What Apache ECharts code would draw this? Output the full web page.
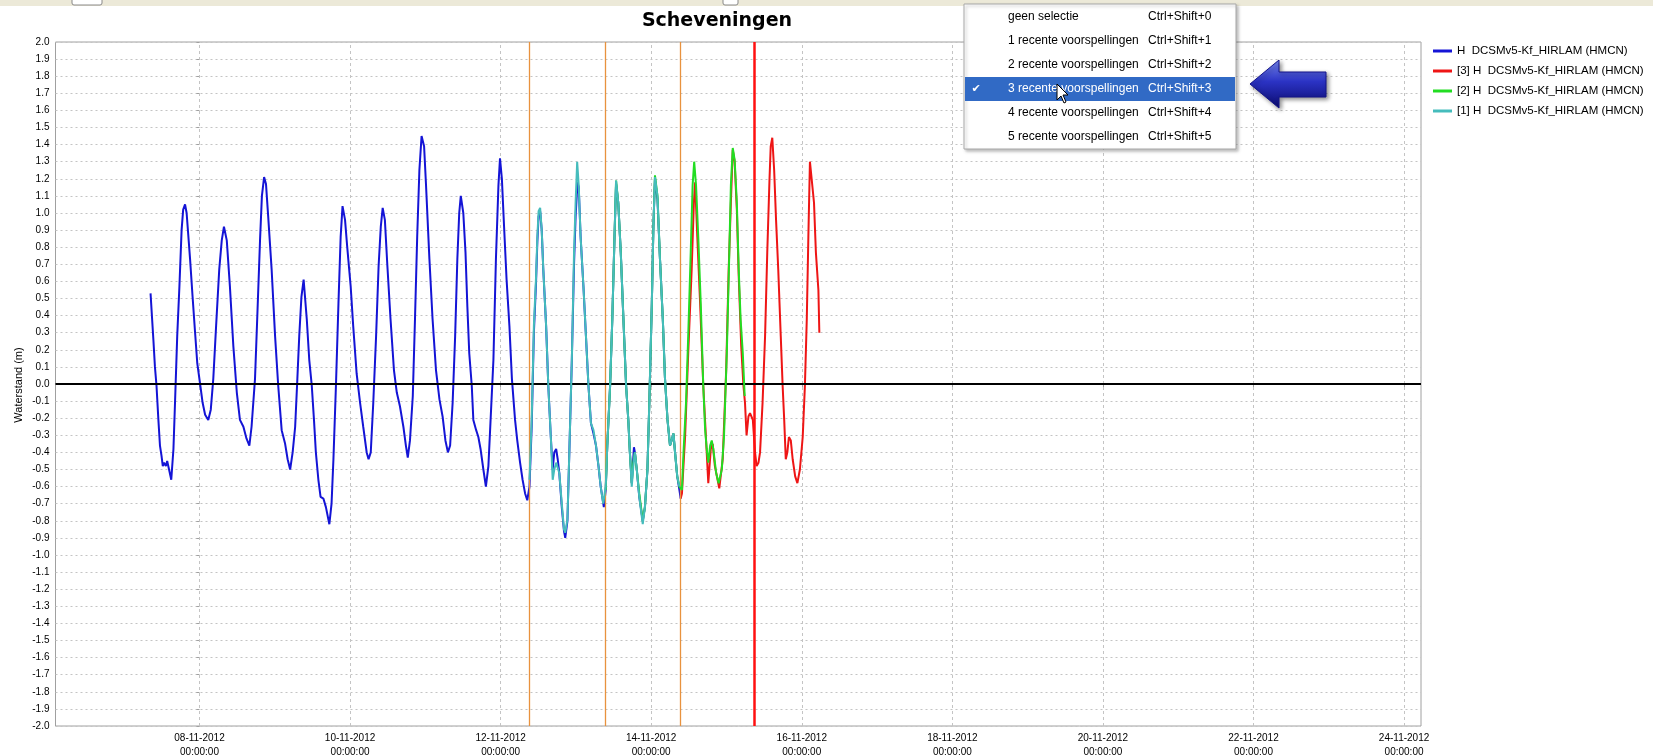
<!DOCTYPE html>
<html>
<head>
<meta charset="utf-8">
<title>Scheveningen</title>
<script src="https://cdn.jsdelivr.net/npm/echarts@6/dist/echarts.min.js"></script>
<style>
  html, body { margin: 0; padding: 0; background: #fff; }
  #chart { width: 1653px; height: 756px; }
</style>
</head>
<body>
<div id="chart"></div>
<script>
// tijd in uren vanaf 08-11-2012 00:00, waterstand in m
var tickHours = [0, 48, 96, 144, 192, 240, 288, 336, 384]
var tickDates = ['08-11-2012', '10-11-2012', '12-11-2012', '14-11-2012', '16-11-2012',
  '18-11-2012', '20-11-2012', '22-11-2012', '24-11-2012']
var tickTime = '00:00:00'

// verticale markeringen (start voorspellingen en huidige tijd)
var forecastStarts = [105.1, 129.5, 153.3]
var nowHour = 176.9

var seriesNames = [
  'H  DCSMv5-Kf_HIRLAM (HMCN)',
  '[3] H  DCSMv5-Kf_HIRLAM (HMCN)',
  '[2] H  DCSMv5-Kf_HIRLAM (HMCN)',
  '[1] H  DCSMv5-Kf_HIRLAM (HMCN)'
]

var blueData = [
  [-15.6, 0.53], [-14.7, 0.26], [-14.2, 0.10], [-13.7, -0.01], [-13.1, -0.21], [-12.6, -0.36],
  [-12.1, -0.42], [-11.7, -0.48], [-11.3, -0.46], [-10.7, -0.48], [-10.3, -0.45], [-9.7, -0.50],
  [-9.0, -0.56], [-8.3, -0.38], [-7.8, -0.11], [-7.1, 0.28], [-6.4, 0.57], [-5.7, 0.90],
  [-5.2, 1.02], [-4.6, 1.05], [-4.1, 1.00], [-3.0, 0.73], [-2.2, 0.51], [-1.4, 0.30],
  [-0.7, 0.12], [0.2, 0.00], [1.0, -0.11], [1.8, -0.18], [2.8, -0.21], [3.6, -0.15],
  [4.4, 0.03], [5.3, 0.34], [6.3, 0.67], [7.1, 0.84], [7.8, 0.92], [8.7, 0.84],
  [9.7, 0.57], [10.8, 0.22], [11.9, -0.05], [12.9, -0.21], [14.0, -0.25], [15.0, -0.32],
  [15.9, -0.36], [16.6, -0.25], [17.7, 0.03], [18.4, 0.38], [19.3, 0.84], [19.9, 1.10],
  [20.6, 1.21], [21.2, 1.17], [21.9, 0.98], [23.0, 0.67], [24.1, 0.28], [25.1, -0.01],
  [26.2, -0.27], [27.3, -0.35], [28.1, -0.44], [28.9, -0.50], [29.7, -0.40], [30.5, -0.25],
  [31.2, 0.03], [31.8, 0.28], [32.5, 0.51], [33.2, 0.61], [34.2, 0.38], [35.0, 0.14],
  [35.8, -0.01], [36.5, -0.21], [37.1, -0.40], [37.9, -0.56], [38.6, -0.66], [39.5, -0.67],
  [40.3, -0.72], [41.4, -0.82], [42.1, -0.70], [42.7, -0.44], [43.5, -0.01], [44.3, 0.47],
  [45.0, 0.86], [45.6, 1.04], [46.4, 0.96], [47.1, 0.80], [48.2, 0.57], [49.0, 0.34],
  [50.1, 0.06], [51.2, -0.11], [52.2, -0.25], [53.3, -0.40], [53.9, -0.44], [54.6, -0.40],
  [55.4, -0.11], [56.3, 0.28], [57.1, 0.69], [57.8, 0.92], [58.4, 1.03], [59.1, 0.96],
  [59.9, 0.69], [60.9, 0.38], [62.0, 0.08], [62.9, -0.05], [63.9, -0.13], [65.0, -0.25],
  [65.8, -0.36], [66.4, -0.43], [67.1, -0.33], [68.0, -0.07], [68.7, 0.38], [69.4, 0.86],
  [70.1, 1.25], [70.8, 1.45], [71.6, 1.39], [72.2, 1.17], [73.3, 0.73], [74.3, 0.38],
  [75.4, 0.08], [76.5, -0.09], [77.5, -0.19], [78.4, -0.33], [79.2, -0.40], [79.9, -0.36],
  [80.7, -0.11], [81.5, 0.28], [82.2, 0.73], [82.8, 1.00], [83.3, 1.10], [84.1, 1.00],
  [84.8, 0.77], [85.4, 0.45], [86.0, 0.18], [86.8, -0.01], [87.3, -0.21], [88.2, -0.27],
  [88.9, -0.31], [89.6, -0.38], [90.5, -0.50], [91.3, -0.60], [92.1, -0.48], [92.8, -0.21],
  [93.7, 0.14], [94.5, 0.73], [95.3, 1.16], [95.8, 1.32], [96.4, 1.20], [97.1, 0.92],
  [97.9, 0.61], [98.8, 0.34], [99.6, 0.03], [100.6, -0.21], [101.3, -0.33], [102.2, -0.46],
  [103.0, -0.56], [103.8, -0.64], [104.5, -0.68], [105.2, -0.60], [105.9, -0.25], [106.6, 0.30],
  [107.3, 0.60], [107.7, 0.83], [108.1, 0.98], [108.6, 1.01], [109.1, 0.90], [109.6, 0.67],
  [110.5, 0.34], [111.2, -0.01], [112.0, -0.31], [112.6, -0.50], [113.1, -0.40], [113.7, -0.38],
  [114.2, -0.44], [114.7, -0.52], [115.5, -0.72], [116.2, -0.86], [116.6, -0.90], [117.3, -0.80],
  [117.9, -0.40], [118.7, 0.14], [119.4, 0.70], [119.9, 0.98], [120.5, 1.18], [120.9, 1.15],
  [121.5, 0.86], [122.4, 0.57], [123.2, 0.28], [124.0, -0.01], [124.8, -0.23], [125.6, -0.29],
  [126.4, -0.36], [127.2, -0.48], [127.9, -0.60], [128.9, -0.72], [129.5, -0.62], [130.0, -0.36],
  [130.9, -0.01], [131.6, 0.38], [132.3, 0.86], [132.8, 1.17], [133.5, 1.06], [134.3, 0.77],
  [135.1, 0.40], [136.0, -0.01], [136.7, -0.21], [137.2, -0.40], [137.8, -0.58], [138.5, -0.37],
  [138.8, -0.40], [139.4, -0.50], [140.2, -0.66], [141.3, -0.80], [142.0, -0.72], [142.8, -0.50],
  [143.4, -0.11], [144.2, 0.47], [144.7, 0.92], [145.2, 1.20], [146.0, 1.08], [146.8, 0.73],
  [147.7, 0.38], [148.4, 0.03], [149.2, -0.21], [150.0, -0.36], [150.5, -0.33], [151.1, -0.29],
  [151.6, -0.40], [152.3, -0.54], [153.0, -0.62], [153.4, -0.67]
]

var cyanData = [
  [105.2, -0.56], [105.9, -0.21], [106.6, 0.34], [107.3, 0.63], [107.7, 0.86], [108.1, 1.01],
  [108.6, 1.03], [109.1, 0.90], [109.6, 0.67], [110.5, 0.34], [111.2, -0.01], [112.0, -0.31],
  [112.6, -0.56], [113.1, -0.50], [113.7, -0.46], [114.2, -0.45], [114.7, -0.52], [115.5, -0.70],
  [116.2, -0.85], [116.6, -0.87], [117.3, -0.79], [117.9, -0.40], [118.7, 0.14], [119.4, 0.77],
  [119.9, 1.06], [120.4, 1.30], [120.9, 1.16], [121.5, 0.86], [122.4, 0.57], [123.2, 0.28],
  [124.0, -0.01], [124.8, -0.23], [125.6, -0.27], [126.4, -0.36], [127.2, -0.48], [127.9, -0.60],
  [128.7, -0.70], [129.5, -0.60], [130.0, -0.36], [130.9, -0.01], [131.6, 0.38], [132.3, 0.86],
  [132.8, 1.19], [133.5, 1.06], [134.3, 0.77], [135.1, 0.40], [136.0, -0.01], [136.7, -0.21],
  [137.2, -0.40], [137.8, -0.60], [138.3, -0.48], [138.8, -0.40], [139.4, -0.50], [140.2, -0.66],
  [141.3, -0.82], [142.0, -0.72], [142.8, -0.50], [143.4, -0.11], [144.2, 0.47], [144.7, 0.92],
  [145.2, 1.21], [146.0, 1.10], [146.8, 0.73], [147.7, 0.38], [148.4, 0.03], [149.2, -0.21],
  [150.0, -0.36], [150.5, -0.33], [151.1, -0.29], [151.6, -0.40], [152.3, -0.54], [153.0, -0.60]
]

var greenData = [
  [129.5, -0.62], [130.0, -0.36], [130.9, -0.01], [131.6, 0.38], [132.3, 0.86], [132.8, 1.19],
  [133.5, 1.06], [134.3, 0.77], [135.1, 0.40], [136.0, -0.01], [136.7, -0.21], [137.2, -0.40],
  [137.8, -0.58], [138.3, -0.46], [138.8, -0.40], [139.4, -0.50], [140.2, -0.64], [141.3, -0.80],
  [142.0, -0.72], [142.8, -0.50], [143.4, -0.11], [144.2, 0.47], [144.7, 0.92], [145.2, 1.22],
  [146.0, 1.10], [146.8, 0.73], [147.7, 0.38], [148.4, 0.03], [149.2, -0.21], [150.0, -0.36],
  [150.5, -0.33], [151.1, -0.29], [151.6, -0.40], [152.3, -0.54], [153.0, -0.60], [153.8, -0.62],
  [154.3, -0.40], [155.1, -0.11], [155.8, 0.28], [156.6, 0.77], [157.2, 1.16], [157.7, 1.30],
  [158.3, 1.16], [159.0, 0.86], [159.8, 0.47], [160.6, -0.01], [161.2, -0.27], [161.7, -0.38],
  [162.2, -0.46], [162.8, -0.36], [163.3, -0.33], [163.8, -0.38], [164.7, -0.52], [165.5, -0.58],
  [166.5, -0.50], [167.2, -0.31], [168.1, 0.18], [168.9, 0.77], [169.4, 1.16], [170.0, 1.38],
  [170.6, 1.31], [171.3, 1.06], [171.9, 0.67], [172.5, 0.38], [173.2, 0.18], [173.8, -0.07]
]

var redData = [
  [153.4, -0.67], [153.8, -0.64], [154.8, -0.31], [155.8, 0.18], [156.9, 0.67], [157.6, 1.06],
  [158.0, 1.18], [158.7, 0.86], [159.6, 0.47], [160.6, -0.01], [161.5, -0.33], [162.2, -0.58],
  [163.0, -0.38], [163.6, -0.35], [164.3, -0.48], [165.7, -0.61], [166.8, -0.44], [167.9, 0.08],
  [168.7, 0.67], [169.4, 1.06], [170.0, 1.37], [170.6, 1.30], [171.3, 1.02], [171.9, 0.63],
  [172.7, 0.22], [173.4, -0.01], [173.9, -0.11], [174.4, -0.30], [175.0, -0.19], [175.5, -0.17],
  [176.4, -0.21], [177.1, -0.40], [177.6, -0.48], [178.2, -0.46], [178.7, -0.40], [179.5, -0.11],
  [180.3, 0.28], [181.0, 0.77], [181.7, 1.19], [182.1, 1.39], [182.6, 1.44], [183.2, 1.25],
  [183.8, 0.96], [184.5, 0.67], [185.3, 0.28], [185.9, -0.01], [186.4, -0.21], [186.9, -0.44],
  [187.4, -0.40], [187.9, -0.31], [188.5, -0.33], [189.1, -0.44], [189.9, -0.54], [190.6, -0.58],
  [191.4, -0.50], [192.3, -0.31], [193.0, -0.01], [193.6, 0.38], [194.1, 0.86], [194.6, 1.30],
  [195.2, 1.19], [195.9, 1.06], [196.5, 0.77], [197.3, 0.55], [197.6, 0.30]
]

// contextmenu bovenin
var menuItems = ['geen selectie', '1 recente voorspellingen', '2 recente voorspellingen',
  '3 recente voorspellingen', '4 recente voorspellingen', '5 recente voorspellingen']
var menuKeys = ['Ctrl+Shift+0', 'Ctrl+Shift+1', 'Ctrl+Shift+2', 'Ctrl+Shift+3', 'Ctrl+Shift+4', 'Ctrl+Shift+5']
var menuSelected = 3

var FONT = 'Liberation Sans, Arial, sans-serif'

function menuGraphics() {
  var els = []
  els.push({
    type: 'rect', shape: { x: 964, y: 4, width: 272, height: 145 },
    style: { fill: '#fff', stroke: '#a8a8a8', lineWidth: 1, shadowBlur: 3, shadowColor: 'rgba(0,0,0,0.25)', shadowOffsetX: 2, shadowOffsetY: 2 },
    z: 100
  })
  els.push({
    type: 'rect', shape: { x: 965, y: 77, width: 270, height: 24 },
    style: { fill: '#316ac5' }, z: 101
  })
  menuItems.forEach(function (txt, i) {
    var y = 17 + i * 24
    var col = i === menuSelected ? '#fff' : '#000'
    els.push({
      type: 'text', z: 102,
      style: { text: txt, x: 1008, y: y, fill: col, font: '12px ' + FONT, textVerticalAlign: 'middle' }
    })
    els.push({
      type: 'text', z: 102,
      style: { text: menuKeys[i], x: 1148, y: y, fill: col, font: '12px ' + FONT, textVerticalAlign: 'middle' }
    })
  })
  els.push({
    type: 'text', z: 102,
    style: { text: '\u2714', x: 976, y: 89, fill: '#fff', font: '11px DejaVu Sans', textAlign: 'center', textVerticalAlign: 'middle' }
  })
  // muiscursor
  var cx = 1057, cy = 84
  var cur = [[0, 0], [0, 16], [4, 12], [7, 19], [9, 18], [6, 11], [11, 11]].map(function (p) {
    return [cx + p[0], cy + p[1]]
  })
  els.push({
    type: 'polygon', z: 103, shape: { points: cur },
    style: { fill: '#fff', stroke: '#000', lineWidth: 1 }
  })
  return els
}

var chart = echarts.init(document.getElementById('chart'))

var lineSeries = function (name, data, color, z) {
  return {
    name: name, type: 'line', data: data, z: z,
    showSymbol: false, symbol: 'none', animation: false,
    lineStyle: { color: color, width: 2 },
    itemStyle: { color: color }
  }
}

var blue = lineSeries(seriesNames[0], blueData, '#1414d6', 3)
blue.markLine = {
  silent: true, symbol: 'none', animation: false,
  label: { show: false },
  data: forecastStarts.map(function (h) {
    return { xAxis: h, lineStyle: { color: '#e8923e', width: 1.3, type: 'solid' } }
  }).concat([
    { xAxis: nowHour, lineStyle: { color: '#ff1010', width: 2.5, type: 'solid' } },
    { yAxis: 0, lineStyle: { color: '#000', width: 2, type: 'solid' } }
  ])
}

// verticale rasterlijnen op de datumlabels
var gridLines = {
  name: 'raster', type: 'line', data: [], z: 1, silent: true,
  markLine: {
    silent: true, symbol: 'none', animation: false, z: 1,
    label: { show: false },
    lineStyle: { color: '#c4c4c4', width: 1, type: [3, 3] },
    data: tickHours.map(function (h) { return { xAxis: h } })
  }
}

chart.setOption({
  backgroundColor: '#fff',
  animation: false,
  grid: {
    left: 55.5, right: 232, top: 42, bottom: 30,
    outerBoundsMode: 'none', containLabel: false,
    show: true, borderColor: '#a0a0a0', borderWidth: 1, backgroundColor: '#fff'
  },
  legend: {
    orient: 'vertical', left: 1433, top: 44, itemGap: 6, padding: 0,
    itemWidth: 19, itemHeight: 3, icon: 'rect',
    data: seriesNames,
    textStyle: { fontFamily: FONT, fontSize: 11.5, color: '#000', lineHeight: 14 }
  },
  xAxis: {
    type: 'value', min: -45.9, max: 389.4,
    axisLine: { show: false },
    axisTick: { show: true, length: 3, customValues: tickHours, lineStyle: { color: '#a0a0a0' } },
    axisLabel: {
      customValues: tickHours, margin: 5,
      fontFamily: FONT, fontSize: 10, color: '#000', lineHeight: 14,
      formatter: function (v) {
        var i = tickHours.indexOf(Math.round(v))
        return i < 0 ? '' : tickDates[i] + '\n' + tickTime
      }
    },
    splitLine: { show: false }
  },
  yAxis: {
    type: 'value', min: -2, max: 2, interval: 0.1,
    axisLine: { show: false },
    axisTick: { show: true, length: 3, lineStyle: { color: '#a0a0a0' } },
    axisLabel: {
      margin: 6, fontFamily: FONT, fontSize: 10, color: '#000',
      formatter: function (v) {
        var r = Math.round(v * 10) / 10
        if (Math.abs(r) < 1e-9) r = 0
        return r.toFixed(1)
      }
    },
    splitLine: { show: true, lineStyle: { color: '#c4c4c4', type: [2, 3], width: 1 } }
  },
  series: [
    gridLines,
    blue,
    lineSeries(seriesNames[1], redData, '#ee1515', 4),
    lineSeries(seriesNames[2], greenData, '#22dd22', 5),
    lineSeries(seriesNames[3], cyanData, '#45bcbc', 6)
  ],
  graphic: [
    { type: 'rect', shape: { x: 0, y: 0, width: 1653, height: 6 }, style: { fill: '#ece9d8' }, z: 90 },
    { type: 'rect', shape: { x: 72, y: -4, width: 30, height: 9, r: 2 }, style: { fill: '#fff', stroke: '#8a8a8a' }, z: 91 },
    { type: 'rect', shape: { x: 723, y: -4, width: 15, height: 9, r: 2 }, style: { fill: '#fff', stroke: '#8a8a8a' }, z: 91 },
    {
      type: 'text', z: 95,
      style: { text: 'Scheveningen', x: 717, y: 21, textAlign: 'center', textVerticalAlign: 'middle', font: 'bold 19px DejaVu Sans', fill: '#000' }
    },
    {
      type: 'text', z: 95, x: 19, y: 385, rotation: Math.PI / 2,
      style: { text: 'Waterstand (m)', x: 0, y: 0, textAlign: 'center', textVerticalAlign: 'middle', font: '11px ' + FONT, fill: '#000' }
    },
    {
      type: 'polygon', z: 99,
      shape: { points: [[1250, 84], [1279, 60], [1279, 72], [1326, 72], [1326, 97], [1279, 97], [1279, 108]] },
      style: {
        fill: new echarts.graphic.LinearGradient(0, 0, 0, 1, [
          { offset: 0, color: '#7587ee' }, { offset: 0.45, color: '#2b33c4' }, { offset: 1, color: '#0b0b6e' }
        ]),
        stroke: '#14148a', lineWidth: 1,
        shadowBlur: 4, shadowColor: 'rgba(0,0,0,0.45)', shadowOffsetX: 2, shadowOffsetY: 2
      }
    }
  ].concat(menuGraphics())
})
</script>
</body>
</html>
